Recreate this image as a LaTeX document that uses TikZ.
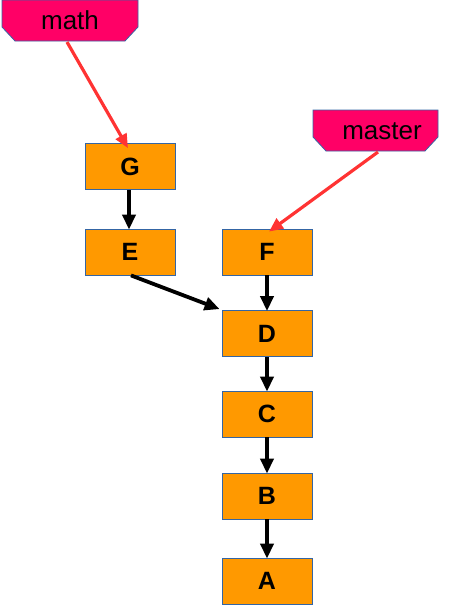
\documentclass[tikz,border=0pt]{standalone}
\usepackage{fontspec}
\setmainfont{Liberation Sans}
\usetikzlibrary{arrows.meta}
\definecolor{boxfill}{HTML}{FF9900}
\definecolor{boxline}{HTML}{3465A4}
\definecolor{tagfill}{HTML}{FF0066}
\definecolor{redline}{HTML}{FF3333}
\begin{document}
\begin{tikzpicture}[x=1pt,y=-1pt,
  commit/.style={draw=boxline, line width=0.8pt, fill=boxfill, minimum width=90pt, minimum height=46pt, inner sep=0pt, font=\fontsize{25}{27}\selectfont\bfseries},
  parent/.style={-{Triangle[length=15pt,width=13pt]}, line width=3.8pt, black},
  ref/.style={-{Triangle[length=14pt,width=12pt]}, line width=3.2pt, redline},
  tagtext/.style={font=\fontsize{26}{28}\selectfont, inner sep=0pt}]
\useasboundingbox (0,0) rectangle (452,606);
% tags
\filldraw[draw=boxline, line width=0.8pt, fill=tagfill]
  (2,0) -- (138,0) -- (138,27) -- (125,41) -- (15,41) -- (2,27) -- cycle;
\node[tagtext] (math) at (70,20) {math};
\coordinate (mathb) at (67,42);
\filldraw[draw=boxline, line width=0.8pt, fill=tagfill]
  (313,110) -- (438,110) -- (438,137) -- (425,151) -- (326,151) -- (313,137) -- cycle;
\node[tagtext] (master) at (382,131) {master};
\coordinate (masterb) at (378,152);
% commits
\node[commit] (G) at (130,166.5) {G};
\node[commit] (E) at (130,252) {E};
\node[commit] (F) at (267,252) {F};
\node[commit] (D) at (267,333.5) {D};
\node[commit] (C) at (267,414) {C};
\node[commit] (B) at (267,496) {B};
\node[commit] (A) at (267,581) {A};
% connectors
\draw[ref] (mathb) -- ([xshift=-2pt,yshift=-5pt]G.north);
\draw[ref] (masterb) -- ([xshift=2pt,yshift=-3pt]F.north);
\draw[parent] ([xshift=-1pt]G.south) -- ([xshift=-1pt,yshift=-1pt]E.north);
\draw[parent] ([xshift=1pt]E.south) -- ([xshift=-2pt,yshift=1pt]D.north west);
\draw[parent] (F.south) -- ([yshift=-1pt]D.north);
\draw[parent] (D.south) -- ([yshift=-1pt]C.north);
\draw[parent] (C.south) -- ([yshift=-1pt]B.north);
\draw[parent] (B.south) -- ([yshift=-1pt]A.north);
\end{tikzpicture}
\end{document}
